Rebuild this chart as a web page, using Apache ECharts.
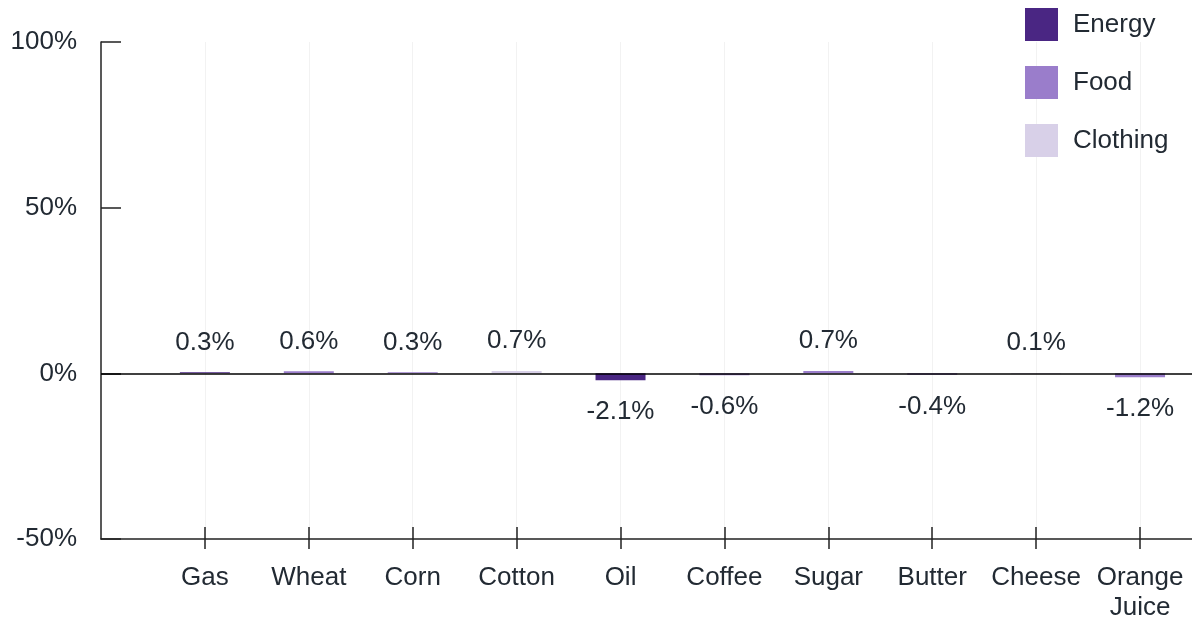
<!DOCTYPE html>
<html>
<head>
<meta charset="utf-8">
<script src="https://cdn.jsdelivr.net/npm/echarts@6/dist/echarts.min.js"></script>
<style>
  html, body { margin: 0; padding: 0; background: #fff; }
  #chart { width: 1192px; height: 623px; }
</style>
</head>
<body>
<div id="chart"></div>
<script>
var categories = ['Gas', 'Wheat', 'Corn', 'Cotton', 'Oil', 'Coffee', 'Sugar', 'Butter', 'Cheese', 'Orange\nJuice'];
var changes = [0.3, 0.6, 0.3, 0.7, -2.1, -0.6, 0.7, -0.4, 0.1, -1.2];
var groups = ['Energy', 'Food', 'Food', 'Clothing', 'Energy', 'Food', 'Food', 'Food', 'Food', 'Food'];
var groupNames = ['Energy', 'Food', 'Clothing'];
var groupColors = ['#4a2683', '#9a7dcb', '#d8d0e8'];
var yTicks = [-50, 0, 50, 100];

var textColor = '#222a33';
var font = 'Liberation Sans, Arial, sans-serif';
var positions = categories.map(function (c, i) { return i; });

var chart = echarts.init(document.getElementById('chart'));

// one series per group, bars overlap at each position (only one is non-null)
var series = groupNames.map(function (g, gi) {
    var data = changes.map(function (v, i) {
        if (groups[i] !== g) return null;
        return {
            value: [i, v],
            label: {
                position: v >= 0 ? 'top' : 'bottom',
                distance: v >= 0 ? 17 : 19
            }
        };
    });
    var s = {
        name: g,
        type: 'bar',
        xAxisIndex: 0,
        barWidth: 50,
        barGap: '-100%',
        itemStyle: { color: groupColors[gi] },
        label: {
            show: true,
            color: textColor,
            fontSize: 26,
            fontFamily: font,
            formatter: function (p) { return p.value[1] + '%'; }
        },
        data: data.filter(function (d) { return d !== null; })
    };
    if (gi === 0) {
        s.markLine = {
            silent: true,
            symbol: 'none',
            label: { show: false },
            lineStyle: { color: '#000', width: 1.5, type: 'solid' },
            data: [{ yAxis: 0 }]
        };
    }
    return s;
});

var option = {
    animation: false,
    backgroundColor: '#fff',
    legend: {
        orient: 'vertical',
        left: 1020,
        top: 3,
        itemWidth: 33,
        itemHeight: 33,
        itemGap: 25,
        icon: 'rect',
        data: groupNames,
        textStyle: { color: textColor, fontSize: 26, fontFamily: font, padding: [0, 0, 0, 10] }
    },
    grid: { left: 101, right: 0, top: 42, bottom: 83 },
    xAxis: [
        {
            type: 'value',
            min: -1,
            max: 9.5,
            interval: 1,
            axisLine: { show: true, onZero: false, lineStyle: { color: '#222', width: 1.5 } },
            axisTick: { show: true, customValues: positions, length: 10, lineStyle: { color: '#222', width: 1.5 } },
            axisLabel: {
                customValues: positions,
                color: textColor,
                fontSize: 26,
                fontFamily: font,
                lineHeight: 30,
                margin: 24,
                formatter: function (v) { return categories[v] || ''; }
            },
            splitLine: { show: true, lineStyle: { color: '#f2f2f2', width: 1 } }
        },
        {
            // inner half of the crossing tick marks
            type: 'value',
            position: 'bottom',
            min: -1,
            max: 9.5,
            interval: 1,
            axisLine: { show: false, onZero: false },
            axisTick: { show: true, inside: true, customValues: positions, length: 12, lineStyle: { color: '#222', width: 1.5 } },
            axisLabel: { show: false },
            splitLine: { show: false }
        }
    ],
    yAxis: {
        type: 'value',
        min: -50,
        max: 100,
        interval: 50,
        axisLine: { show: true, onZero: false, lineStyle: { color: '#222', width: 1.5 } },
        axisTick: { show: true, inside: true, length: 20, lineStyle: { color: '#222', width: 1.5 } },
        axisLabel: {
            color: textColor,
            fontSize: 26,
            fontFamily: font,
            margin: 24,
            formatter: function (v) { return yTicks.indexOf(v) >= 0 ? v + '%' : ''; }
        },
        splitLine: { show: false }
    },
    series: series
};

chart.setOption(option);
window.onresize = function () {
    chart.resize();
};
</script>
</body>
</html>
